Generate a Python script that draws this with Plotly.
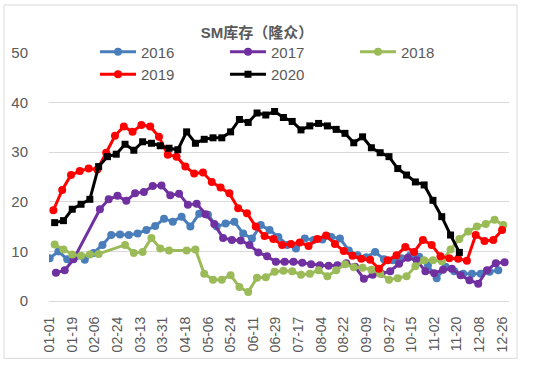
import pandas as pd
import plotly.graph_objects as go

# x-axis tick labels (month-day)
tick_labels = ["01-01", "01-19", "02-06", "02-24", "03-13", "03-31", "04-18",
               "05-06", "05-24", "06-11", "06-29", "07-17", "08-04", "08-22",
               "09-09", "09-27", "10-15", "11-02", "11-20", "12-08", "12-26"]

# weekly series (first observation date, month-day)
start_2016 = "01-01"
vals_2016 = [8.6, 10.0, 8.4, 9.0, 8.3, 9.7, 11.3, 13.3, 13.4, 13.3,
             13.6, 14.3, 15.1, 16.6, 16.0, 17.0, 15.0, 17.6, 17.4, 15.0,
             15.6, 16.0, 13.6, 12.6, 15.3, 14.3, 12.9, 11.3, 10.6, 12.6,
             12.3, 12.4, 12.9, 12.6, 10.2, 9.2, 8.8, 9.9, 8.4, 8.2,
             8.6, 9.2, 8.9, 7.2, 4.6, 6.9, 6.0, 5.5, 5.5, 5.5,
             5.9, 6.2]

start_2017 = "01-06"
vals_2017 = [5.7, 6.2, 8.4, None, None, 18.5, 20.5, 21.2, 20.2, 21.7,
             22.0, 23.2, 23.3, 21.3, 21.6, 19.4, 19.6, 17.5, 15.5, 12.7,
             12.3, 12.2, 11.3, 9.8, 9.0, 7.9, 7.9, 7.9, 7.7, 7.4,
             7.2, 7.1, 7.2, 7.6, 6.9, 4.5, 5.3, 5.5, 6.0, 7.5,
             8.7, 8.2, 6.0, 5.6, 6.3, 6.5, 5.2, 4.2, 3.5, 6.2,
             7.6, 7.8]

start_2018 = "01-05"
vals_2018 = [11.4, 10.4, 9.4, 9.1, 9.4, 9.5, None, None, 11.3, 9.7,
             9.9, 12.7, 10.6, 10.2, None, 10.2, 10.4, 5.5, 4.3, 4.3,
             5.2, 2.8, 1.8, 4.7, 4.8, 5.9, 6.1, 6.0, 5.3, 5.5,
             6.2, 5.0, 6.2, 7.4, 6.8, 6.7, 6.3, 5.5, 4.3, 4.6,
             5.0, 7.0, 8.2, 8.2, 8.0, 10.4, 12.5, 14.0, 15.0, 15.5,
             16.4, 15.3]

start_2019 = "01-04"
vals_2019 = [18.3, 22.4, 25.4, 26.2, 26.7, 26.5, 29.9, 33.3, 35.2, 34.1,
             35.5, 35.2, 33.1, 29.5, 29.1, 27.1, 25.7, 25.9, 24.0, 22.9,
             21.7, 18.7, 17.7, 15.0, 13.1, 12.5, 11.3, 11.5, 11.8, 11.1,
             12.5, 13.2, 11.5, 10.1, 9.1, 8.5, 8.3, 6.5, 8.2, 9.2,
             10.9, 9.9, 12.3, 11.3, 9.0, 8.6, 8.5, 8.1, 13.3, 12.1,
             12.3, 14.3]

start_2020 = "01-05"
vals_2020 = [15.8, 16.2, 18.5, 19.5, 20.5, 27.1, 29.1, 29.6, 31.6, 30.4,
             32.1, 31.8, 31.3, 30.8, 30.5, 34.1, 31.8, 32.6, 32.9, 32.9,
             34.1, 36.6, 36.0, 37.9, 37.5, 38.2, 37.0, 36.2, 34.5, 35.3,
             35.8, 35.3, 34.6, 33.8, 31.9, 33.1, 30.9, 29.9, 29.1, 26.7,
             25.4, 24.0, 23.4, 20.3, 17.0, 13.3, 9.8]

series = [
    ("2016", start_2016, vals_2016, "#4A7EBB", "circle", 8),
    ("2017", start_2017, vals_2017, "#7030A0", "circle", 8),
    ("2018", start_2018, vals_2018, "#9BBB59", "circle", 8),
    ("2019", start_2019, vals_2019, "#FF0000", "circle", 8),
    ("2020", start_2020, vals_2020, "#000000", "square", 7),
]

FONT = "Liberation Sans, Noto Sans CJK SC, sans-serif"
GRAY = "#595959"

fig = go.Figure()
for name, start, vals, color, sym, msize in series:
    dates = pd.date_range("2020-" + start + " 12:00", periods=len(vals), freq="7D")
    fig.add_trace(go.Scatter(
        x=dates, y=vals, name=name, mode="lines+markers",
        line=dict(color=color, width=3),
        marker=dict(color=color, symbol=sym, size=msize),
        connectgaps=True,
    ))

tickvals = [pd.Timestamp("2020-" + t + " 12:00") for t in tick_labels]

fig.update_layout(
    width=550, height=368,
    margin=dict(l=49, r=41, t=53, b=67, autoexpand=False),
    paper_bgcolor="white", plot_bgcolor="white",
    font=dict(family=FONT, color=GRAY, size=14),
    title=dict(text="<b>SM库存（隆众）</b>", x=257/550, xref="container", xanchor="center",
               y=1-33/368, yref="container", yanchor="middle",
               font=dict(size=15, color=GRAY, family=FONT)),
    legend=dict(orientation="h", x=0.1, xanchor="left", y=1.071, yanchor="top",
                bgcolor="rgba(0,0,0,0)", font=dict(size=15, color=GRAY),
                entrywidth=79, entrywidthmode="pixels", itemwidth=36,
                traceorder="normal"),
    showlegend=True,
    xaxis=dict(type="date", range=["2020-01-01", "2021-01-01"],
               tickmode="array", tickvals=tickvals, ticktext=tick_labels,
               tickangle=-90, tickfont=dict(size=14, color=GRAY),
               showgrid=False, showline=True, linecolor="#D9D9D9", linewidth=1,
               ticks="", zeroline=False, ticklabelstandoff=9),
    yaxis=dict(range=[0, 50], dtick=10, tick0=0, gridcolor="#D9D9D9", gridwidth=1,
               showline=False, zeroline=False, ticks="",
               tickfont=dict(size=15, color=GRAY), ticklabelstandoff=20),
    shapes=[dict(type="rect", xref="paper", yref="paper",
                 x0=(4-49)/460, x1=(517-49)/460, y0=(300.7-358)/247.7, y1=(300.7-5)/247.7,
                 line=dict(color="#D9D9D9", width=1), layer="below")],
)

fig.write_html("out.html", post_script="document.body.style.margin='0';",
               config={"displayModeBar": False})
